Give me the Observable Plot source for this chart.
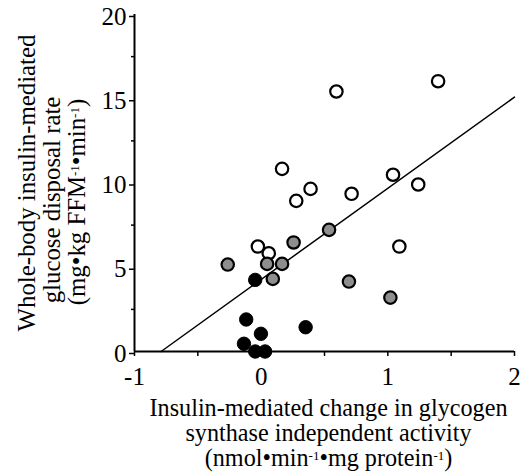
<!DOCTYPE html>
<html>
<head>
<meta charset="utf-8">
<script src="https://cdn.jsdelivr.net/npm/d3@7"></script>
<script src="https://cdn.jsdelivr.net/npm/@observablehq/plot@0.6"></script>
<style>
  html, body { margin: 0; padding: 0; background: white; }
</style>
</head>
<body>
<div id="chart"></div>
<script>
// Open circles
const openX = [0.594, 1.397, 0.165, 0.39, 0.277, 0.714, 1.041, 1.24, 1.091, -0.026, 0.06];
const openY = [15.43, 16.04, 10.84, 9.65, 8.94, 9.36, 10.49, 9.91, 6.23, 6.23, 5.83];
// Gray (hatched) circles
const grayX = [-0.264, 0.047, 0.165, 0.092, 0.256, 0.536, 0.693, 1.02];
const grayY = [5.16, 5.2, 5.2, 4.31, 6.47, 7.22, 4.15, 3.2];
// Black filled circles
const blackX = [-0.047, -0.118, -0.002, -0.136, -0.047, 0.031, 0.351];
const blackY = [4.25, 1.9, 1.05, 0.46, 0, 0, 1.44];
// Regression line end points
const lineX = [-0.79, 2.0];
const lineY = [0, 15.1];
// Ticks
const xTicks = [-1, -0.5, 0, 0.5, 1, 1.5, 2];
const xTickLabels = ["-1", "", "0", "", "1", "", "2"];
const yTicks = [0, 5, 10, 15, 20];
const yMinorTicks = [2.5, 7.5, 12.5, 17.5];
// Axis titles
const xTitle = ["Insulin-mediated change in glycogen", "synthase independent activity", "(nmol•min⁻¹•mg protein⁻¹)"];
const yTitle = ["Whole-body insulin-mediated", "glucose disposal rate", "(mg•kg FFM⁻¹•min⁻¹)"];

const toPts = (xs, ys) => xs.map((x, i) => ({x, y: ys[i]}));
const openPts = toPts(openX, openY);
const grayPts = toPts(grayX, grayY);
const blackPts = toPts(blackX, blackY);
const linePts = toPts(lineX, lineY);

const XF = 24.2, YF = 24.8;
const chart = Plot.plot({
  width: 520,
  height: 475,
  marginLeft: 134,
  marginRight: 6,
  marginTop: 14,
  marginBottom: 124,
  style: {fontFamily: "'Liberation Serif', 'Times New Roman', serif", fontSize: "25px", background: "white", color: "black"},
  x: {domain: [-1, 2]},
  y: {domain: [0, 20]},
  marks: [
    Plot.axisX({ticks: xTicks, tickSize: 5, tickPadding: 11, strokeWidth: 1.5,
      tickFormat: d => xTickLabels[xTicks.indexOf(d)], label: null}),
    Plot.axisY({ticks: yTicks, tickSize: 5, tickPadding: 3, strokeWidth: 1.5, dy: 2,
      tickFormat: d => String(d), label: null}),
    Plot.axisY({ticks: yMinorTicks, tickSize: 3, strokeWidth: 1.5, tickFormat: () => "", label: null}),
    Plot.ruleX([-1], {strokeWidth: 2}),
    Plot.ruleY([0], {strokeWidth: 2}),
    Plot.line(linePts, {x: "x", y: "y", stroke: "black", strokeWidth: 1.5}),
    Plot.dot(openPts, {x: "x", y: "y", r: 6.2, fill: "white", stroke: "black", strokeWidth: 2.2}),
    Plot.dot(grayPts, {x: "x", y: "y", r: 6.2, fill: "#8e8e8e", stroke: "black", strokeWidth: 2.2}),
    Plot.dot(blackPts, {x: "x", y: "y", r: 6.7, fill: "black", stroke: "black", strokeWidth: 1}),
    Plot.text([xTitle[0]], {frameAnchor: "bottom", lineAnchor: "bottom", textAnchor: "middle", dx: 4, dy: 64, fontSize: XF}),
    Plot.text([xTitle[1]], {frameAnchor: "bottom", lineAnchor: "bottom", textAnchor: "middle", dx: 4, dy: 89, fontSize: XF}),
    Plot.text([xTitle[2]], {frameAnchor: "bottom", lineAnchor: "bottom", textAnchor: "middle", dx: 4, dy: 114, fontSize: XF}),
    Plot.text([yTitle[0]], {frameAnchor: "left", lineAnchor: "bottom", textAnchor: "middle", rotate: -90, dx: -100, dy: 0, fontSize: YF}),
    Plot.text([yTitle[1]], {frameAnchor: "left", lineAnchor: "bottom", textAnchor: "middle", rotate: -90, dx: -75, dy: 17, fontSize: YF}),
    Plot.text([yTitle[2]], {frameAnchor: "left", lineAnchor: "bottom", textAnchor: "middle", rotate: -90, dx: -50, dy: 19, fontSize: YF})
  ]
});

// Render "⁻¹" as small raised "-1"
d3.select(chart).selectAll("text").each(function() {
  const t = this.textContent;
  if (!t.includes("⁻¹")) return;
  const parts = t.split("⁻¹");
  const sel = d3.select(this);
  sel.text(null);
  parts.forEach((p, i) => {
    sel.append("tspan").attr("dy", i > 0 ? 6 : null).text(p);
    if (i < parts.length - 1) {
      sel.append("tspan").attr("dy", -6).attr("font-size", 13).text("-1");
    }
  });
});

document.getElementById("chart").appendChild(chart);
</script>
</body>
</html>
